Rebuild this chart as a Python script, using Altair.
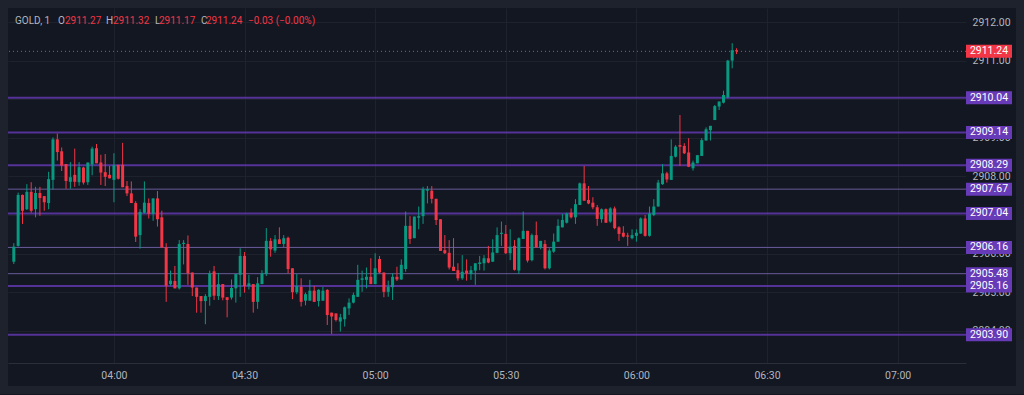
import altair as alt
import pandas as pd

# ---------------- data ----------------
symbol = "GOLD, 1"
start_minute = 217  # first candle 03:37, one candle per minute

opens = [2905.79, 2906.20, 2907.52, 2907.15, 2907.60, 2907.15, 2907.57, 2907.49, 2907.31, 2907.91,
         2908.96, 2908.65, 2908.32, 2907.86, 2908.04, 2907.85, 2908.23, 2907.85, 2908.31, 2908.73,
         2908.36, 2908.11, 2908.04, 2907.91, 2908.30, 2908.30, 2907.75, 2907.56, 2907.31, 2906.48,
         2907.06, 2907.31, 2907.03, 2907.43, 2906.94, 2906.16, 2905.21, 2905.29, 2905.10, 2906.25,
         2906.25, 2905.51, 2905.12, 2904.90, 2904.77, 2904.88, 2905.54, 2904.90, 2905.21, 2904.87,
         2904.86, 2905.10, 2905.45, 2905.94, 2905.16, 2905.21, 2904.75, 2905.21, 2905.47, 2906.33,
         2906.08, 2906.37, 2906.25, 2906.41, 2905.62, 2905.00, 2905.14, 2904.78, 2904.78, 2905.04,
         2904.77, 2904.78, 2905.06, 2904.47, 2904.45, 2904.24, 2904.30, 2904.58, 2904.73, 2904.88,
         2905.32, 2905.32, 2905.40, 2905.21, 2905.86, 2905.51, 2905.01, 2905.13, 2905.40, 2905.33,
         2905.60, 2906.72, 2906.40, 2906.93, 2906.97, 2907.63, 2907.63, 2907.42, 2906.89, 2906.09,
         2906.02, 2905.66, 2905.57, 2905.36, 2905.56, 2905.47, 2905.56, 2905.73, 2905.75, 2905.88,
         2905.79, 2906.02, 2906.51, 2906.51, 2906.01, 2906.20, 2905.56, 2906.38, 2906.59, 2905.83,
         2906.48, 2906.16, 2906.25, 2905.62, 2906.05, 2906.31, 2906.68, 2906.80, 2907.06, 2906.94,
         2907.26, 2907.82, 2907.39, 2907.32, 2907.20, 2906.89, 2907.15, 2906.83, 2907.17, 2906.68,
         2906.54, 2906.47, 2906.40, 2906.46, 2906.52, 2906.91, 2906.46, 2907.00, 2907.22, 2907.80,
         2908.08, 2907.91, 2908.51, 2908.81, 2908.79, 2908.62, 2908.21, 2908.34, 2908.53, 2908.93,
         2909.20, 2909.46, 2909.81, 2909.91, 2910.05, 2911.00, 2911.27]
highs = [2906.27, 2907.58, 2907.53, 2907.80, 2907.85, 2907.73, 2907.73, 2907.49, 2908.12, 2909.01,
         2909.11, 2908.75, 2908.32, 2908.37, 2908.72, 2908.37, 2908.25, 2908.36, 2908.77, 2908.84,
         2908.56, 2908.58, 2908.27, 2908.60, 2908.30, 2908.87, 2907.88, 2907.87, 2907.36, 2907.15,
         2907.87, 2907.43, 2907.43, 2907.62, 2907.11, 2906.27, 2905.56, 2905.68, 2906.35, 2906.35,
         2906.47, 2905.51, 2905.12, 2904.90, 2904.95, 2905.56, 2905.68, 2905.50, 2905.21, 2904.87,
         2905.33, 2905.47, 2906.14, 2906.04, 2905.45, 2905.21, 2905.39, 2905.57, 2906.66, 2906.40,
         2906.48, 2906.68, 2906.48, 2906.44, 2905.62, 2905.47, 2905.36, 2904.99, 2905.32, 2905.16,
         2905.08, 2905.14, 2905.08, 2904.47, 2904.45, 2904.44, 2904.63, 2904.84, 2904.99, 2905.71,
         2905.56, 2905.64, 2905.88, 2906.01, 2905.94, 2905.51, 2905.30, 2905.49, 2905.66, 2905.85,
         2907.09, 2906.97, 2906.96, 2907.22, 2907.73, 2907.75, 2907.75, 2907.42, 2906.89, 2906.48,
         2906.35, 2906.40, 2905.75, 2905.96, 2905.85, 2905.68, 2905.75, 2905.94, 2905.96, 2906.20,
         2906.37, 2906.68, 2906.83, 2906.74, 2906.63, 2906.35, 2906.42, 2907.09, 2906.59, 2906.52,
         2906.83, 2906.33, 2906.35, 2906.14, 2906.52, 2906.89, 2907.03, 2907.06, 2907.17, 2907.41,
         2907.84, 2908.27, 2907.75, 2907.46, 2907.26, 2907.17, 2907.17, 2907.20, 2907.22, 2906.71,
         2906.71, 2906.54, 2906.63, 2906.63, 2906.94, 2907.00, 2907.22, 2907.41, 2907.91, 2908.32,
         2908.12, 2908.96, 2908.81, 2909.59, 2908.86, 2908.99, 2908.41, 2908.55, 2908.99, 2909.27,
         2909.31, 2909.85, 2909.94, 2910.22, 2911.02, 2911.45, 2911.32]
lows = [2905.73, 2906.18, 2906.77, 2907.13, 2907.06, 2906.94, 2906.98, 2907.11, 2907.15, 2907.66,
        2908.41, 2908.14, 2907.68, 2907.68, 2907.73, 2907.76, 2907.79, 2907.78, 2908.03, 2908.34,
        2907.78, 2907.75, 2907.95, 2907.33, 2907.92, 2907.72, 2907.49, 2907.31, 2906.30, 2906.13,
        2907.04, 2906.91, 2906.85, 2906.70, 2906.15, 2904.75, 2905.17, 2905.10, 2905.07, 2905.72,
        2905.19, 2904.90, 2904.47, 2904.47, 2904.17, 2904.65, 2904.80, 2904.80, 2904.79, 2904.35,
        2904.81, 2904.73, 2904.88, 2904.99, 2905.07, 2904.47, 2904.57, 2905.21, 2905.42, 2905.92,
        2906.02, 2906.25, 2906.16, 2905.49, 2904.82, 2904.95, 2904.63, 2904.66, 2904.78, 2904.75,
        2904.63, 2904.78, 2904.15, 2903.92, 2904.24, 2903.98, 2904.11, 2904.41, 2904.71, 2904.88,
        2905.01, 2905.10, 2905.21, 2905.21, 2905.49, 2904.87, 2904.88, 2904.80, 2905.29, 2905.32,
        2905.53, 2906.25, 2906.40, 2906.63, 2906.77, 2907.30, 2907.30, 2906.74, 2906.07, 2905.99,
        2905.59, 2905.55, 2905.30, 2905.32, 2905.30, 2905.32, 2905.19, 2905.57, 2905.56, 2905.75,
        2905.79, 2906.01, 2906.20, 2905.99, 2905.83, 2905.56, 2905.47, 2906.38, 2905.77, 2905.80,
        2906.16, 2906.11, 2905.59, 2905.59, 2906.02, 2906.31, 2906.68, 2906.78, 2906.91, 2906.77,
        2907.26, 2907.37, 2907.28, 2907.15, 2906.72, 2906.80, 2906.80, 2906.80, 2906.63, 2906.33,
        2906.42, 2906.20, 2906.37, 2906.31, 2906.51, 2906.44, 2906.44, 2906.97, 2907.22, 2907.78,
        2907.84, 2907.91, 2908.49, 2908.27, 2908.58, 2908.24, 2908.15, 2908.34, 2908.53, 2908.93,
        2908.93, 2909.46, 2909.72, 2909.89, 2910.02, 2910.80, 2911.17]
closes = [2906.18, 2907.52, 2907.11, 2907.60, 2907.11, 2907.57, 2907.44, 2907.33, 2907.93, 2908.96,
          2908.63, 2908.28, 2907.88, 2907.98, 2907.86, 2908.24, 2907.84, 2908.36, 2908.72, 2908.34,
          2908.10, 2907.99, 2907.95, 2908.29, 2907.94, 2907.72, 2907.56, 2907.31, 2906.44, 2907.08,
          2907.32, 2907.03, 2907.43, 2906.89, 2906.16, 2905.17, 2905.30, 2905.10, 2906.25, 2906.28,
          2905.49, 2905.12, 2904.88, 2904.77, 2904.90, 2905.49, 2904.91, 2905.21, 2904.86, 2904.80,
          2905.11, 2905.47, 2905.94, 2905.16, 2905.23, 2904.75, 2905.23, 2905.49, 2906.33, 2906.11,
          2906.37, 2906.25, 2906.40, 2905.60, 2905.00, 2905.16, 2904.75, 2904.95, 2905.04, 2904.75,
          2905.06, 2905.04, 2904.41, 2904.37, 2904.28, 2904.35, 2904.61, 2904.73, 2904.93, 2905.32,
          2905.36, 2905.40, 2905.21, 2905.62, 2905.51, 2905.01, 2905.14, 2905.40, 2905.33, 2905.71,
          2906.72, 2906.38, 2906.96, 2906.97, 2907.67, 2907.67, 2907.42, 2906.87, 2906.07, 2906.01,
          2905.64, 2905.55, 2905.36, 2905.53, 2905.49, 2905.57, 2905.75, 2905.77, 2905.88, 2905.77,
          2906.03, 2906.48, 2906.54, 2906.01, 2906.18, 2905.58, 2906.40, 2906.59, 2905.82, 2906.48,
          2906.16, 2906.33, 2905.62, 2906.08, 2906.31, 2906.72, 2906.87, 2907.04, 2906.94, 2907.28,
          2907.82, 2907.37, 2907.30, 2907.20, 2906.90, 2907.15, 2906.80, 2907.17, 2906.66, 2906.51,
          2906.44, 2906.44, 2906.48, 2906.54, 2906.91, 2906.46, 2907.04, 2907.22, 2907.84, 2908.08,
          2907.92, 2908.53, 2908.77, 2908.77, 2908.60, 2908.25, 2908.36, 2908.55, 2908.94, 2909.22,
          2909.31, 2909.82, 2909.94, 2910.11, 2911.00, 2911.27, 2911.24]

levels = [2910.04, 2909.14, 2908.29, 2907.67, 2907.04, 2906.16, 2905.48, 2905.16, 2903.90]
level_kind = ["main", "main", "main", "minor", "main", "minor", "minor", "main", "main"]
price_ticks = [2904, 2905, 2906, 2907, 2908, 2909, 2910, 2911, 2912]
time_ticks = [240, 270, 300, 330, 360, 390, 420]  # 04:00 ... 07:00

# ---------------- styles / layout ----------------
UP, DOWN = "#089981", "#f23645"
PURPLE = "#673ab7"
BG = "#131722"
FRAME = "#1e222d"
TXT = "#b2b5be"
FONT = "Roboto"
W, H = 958, 355
X_DOMAIN = [216.82, 434.55]
Y_DOMAIN = [2903.166, 2912.363]

df = pd.DataFrame({"t": [start_minute + i for i in range(len(opens))],
                   "o": opens, "h": highs, "l": lows, "c": closes})
df["dir"] = ["up" if c >= o else "down" for o, c in zip(df.o, df.c)]

xs = alt.Scale(domain=X_DOMAIN, nice=False, zero=False)
ys = alt.Scale(domain=Y_DOMAIN, nice=False, zero=False)

xaxis = alt.Axis(values=time_ticks,
                 labelExpr="timeFormat(datetime(2025,0,1,floor(datum.value/60),datum.value%60),'%H:%M')",
                 grid=True, gridColor="#1e222d", gridWidth=1, ticks=False, domain=True,
                 domainColor="#2a2e39", labelColor=TXT, labelFont=FONT, labelFontSize=10.5,
                 labelPadding=7, labelFlush=False, labelOverlap=False, zindex=0, title=None)
yaxis = alt.Axis(orient="right", values=price_ticks, format=".2f", grid=True,
                 gridColor="#1e222d", gridWidth=1, ticks=False, domain=False,
                 labelColor=TXT, labelFont=FONT, labelFontSize=10.5, labelPadding=6,
                 labelAlign="left", labelBaseline="middle", labelFlush=False,
                 labelOverlap=False, zindex=0, title=None)

X = alt.X("t:Q", scale=xs, axis=xaxis)
color = alt.Color("dir:N", scale=alt.Scale(domain=["up", "down"], range=[UP, DOWN]), legend=None)

wicks = alt.Chart(df).mark_rule(strokeWidth=1).encode(
    x=X, y=alt.Y("l:Q", scale=ys, axis=yaxis), y2="h:Q", color=color)
bodies = alt.Chart(df).mark_bar(size=3).encode(
    x=X, y=alt.Y("o:Q", scale=ys, axis=yaxis), y2="c:Q", color=color)

lv = pd.DataFrame({"p": levels, "kind": level_kind,
                   "label": [f"{v:.2f}" for v in levels]})
lv_main = lv[lv.kind == "main"]
lv_minor = lv[lv.kind == "minor"]
Yp = alt.Y("p:Q", scale=ys, axis=yaxis)

rule_main = alt.Chart(lv_main).mark_rule(color=PURPLE, strokeWidth=2, opacity=0.8).encode(y=Yp)
rule_minor = alt.Chart(lv_minor).mark_rule(color="#7e6bb8", strokeWidth=1, opacity=0.8).encode(y=Yp)

last = pd.DataFrame({"p": [closes[-1]], "label": [f"{closes[-1]:.2f}"]})
price_line = alt.Chart(last).mark_rule(color=DOWN, strokeWidth=1, strokeDash=[1, 3]).encode(y=Yp)

lab_box = alt.Chart(lv).mark_rect(color=PURPLE, yOffset=-6.5, y2Offset=6.5).encode(
    y=Yp, y2="p:Q", x=alt.value(W), x2=alt.value(W + 46))
lab_txt = alt.Chart(lv).mark_text(color="#ffffff", font=FONT, fontSize=10.5, align="center",
                                  baseline="middle").encode(
    y=Yp, x=alt.value(W + 23), text="label:N")
last_box = alt.Chart(last).mark_rect(color=DOWN, yOffset=-6.5, y2Offset=6.5).encode(
    y=Yp, y2="p:Q", x=alt.value(W), x2=alt.value(W + 46))
last_txt = alt.Chart(last).mark_text(color="#ffffff", font=FONT, fontSize=10.5, align="center",
                                     baseline="middle").encode(
    y=Yp, x=alt.value(W + 23), text="label:N")

# header legend
chg = closes[-1] - closes[-2]
pct = chg / closes[-2] * 100
header_parts = [
    (symbol, TXT, 7), ("O", TXT, 50), (f"{opens[-1]:.2f}", DOWN, 57),
    ("H", TXT, 98), (f"{highs[-1]:.2f}", DOWN, 105),
    ("L", TXT, 147), (f"{lows[-1]:.2f}", DOWN, 151),
    ("C", TXT, 193), (f"{closes[-1]:.2f}", DOWN, 198),
    (f"\u2212{abs(chg):.2f} (\u2212{abs(pct):.2f}%)", DOWN, 240),
]
header_df = pd.DataFrame({"dummy": [0]})
header = [alt.Chart(header_df).mark_text(text=txt, color=col, font=FONT, fontSize=10,
                                         align="left", baseline="middle").encode(
    x=alt.value(px), y=alt.value(13)) for txt, col, px in header_parts]

frame = alt.Chart(header_df).mark_rect(fillOpacity=0, stroke=FRAME, strokeWidth=8).encode(
    x=alt.value(-4), x2=alt.value(1012), y=alt.value(-4), y2=alt.value(382))

chart = alt.layer(
    rule_minor, rule_main, price_line, wicks, bodies,
    lab_box, lab_txt, last_box, last_txt, *header, frame
).properties(
    width=W, height=H, background=BG, autosize="none",
    padding={"left": 8, "top": 8, "right": 58, "bottom": 32},
).configure_view(stroke=None)

chart.save("out.html", embed_options={"renderer": "svg", "actions": False})
